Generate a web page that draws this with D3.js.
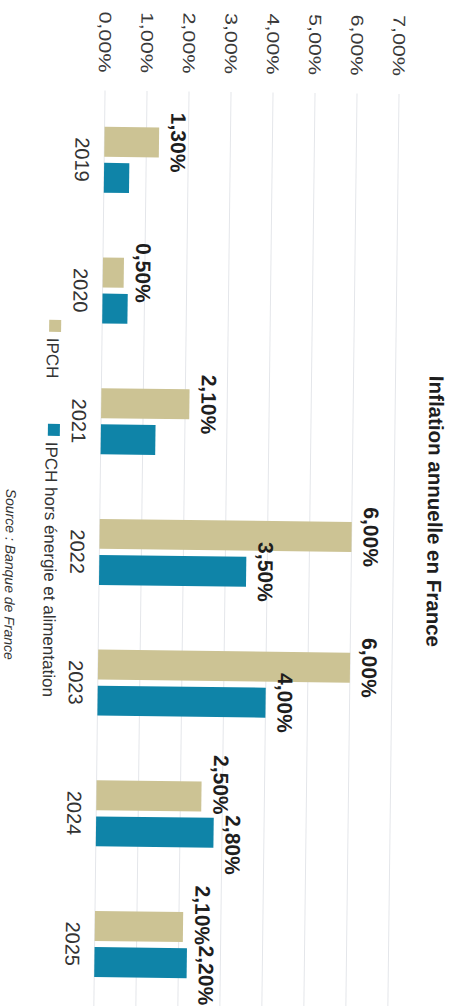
<!DOCTYPE html>
<html>
<head>
<meta charset="utf-8">
<script src="https://cdn.jsdelivr.net/npm/d3@7"></script>
<style>
  html, body { margin: 0; padding: 0; background: #fff; }
  svg { display: block; }
  text { font-family: "Liberation Sans", Arial, sans-serif; }
</style>
</head>
<body>
<script>
// Annual inflation in France: headline HICP vs core HICP
const years = ["2019", "2020", "2021", "2022", "2023", "2024", "2025"];
const ipch = [1.3, 0.5, 2.1, 6.0, 6.0, 2.5, 2.1];
const ipchCore = [0.6, 0.6, 1.3, 3.5, 4.0, 2.8, 2.2];
const ipchShowLabel = [true, true, true, true, true, true, true];
const coreShowLabel = [false, false, false, true, true, true, true];
const tickValues = [0, 1, 2, 3, 4, 5, 6, 7];
const seriesNames = ["IPCH", "IPCH hors énergie et alimentation"];
const seriesColors = ["#ccc394", "#0f84a8"];
const title = "Inflation annuelle en France";
const source = "Source : Banque de France";

const W = 459, H = 1006;
const fmt = v => d3.format(".2f")(v).replace(".", ",") + "%";

const svg = d3.select("body").append("svg")
  .attr("width", W).attr("height", H);
svg.append("rect").attr("width", W).attr("height", H).attr("fill", "#fff");

// The page is laid out sideways: a column chart turned a quarter turn clockwise
const tilt = svg.append("g").attr("transform", "rotate(0.7,229.5,503)");
const g = tilt.append("g").attr("transform", `translate(${W},0) rotate(90)`);

// scales in the chart's own (unrotated) frame
const x = d3.scaleBand().domain(years).range([96, 1011])
  .paddingInner(0.495).paddingOuter(0.2475);
const sub = d3.scaleBand().domain([0, 1]).range([0, x.bandwidth()]).paddingInner(0.17);
const y = d3.scaleLinear().domain([0, 7]).range([359, 65]);

// gridlines
g.append("g").selectAll("line").data(tickValues).join("line")
  .attr("x1", 92).attr("x2", 1012)
  .attr("y1", d => y(d)).attr("y2", d => y(d))
  .attr("stroke", "#e4e6ea").attr("stroke-width", 1);

// value axis labels
const yAxis = d3.axisLeft(y).tickValues(tickValues).tickFormat(fmt).tickSize(0).tickPadding(0);
const ya = g.append("g").attr("transform", "translate(74,0)").call(yAxis);
ya.select(".domain").remove();
ya.selectAll("text")
  .attr("font-size", 17).attr("fill", "#3a3a3a")
  .attr("textLength", 61).attr("lengthAdjust", "spacingAndGlyphs")
  .attr("dy", "0.35em");

// category labels
const xAxis = d3.axisBottom(x).tickSize(0).tickPadding(0);
const xa = g.append("g").attr("transform", "translate(0,388)").call(xAxis);
xa.select(".domain").remove();
xa.selectAll("text").attr("font-size", 20).attr("fill", "#333").attr("dy", 0);

// bars
const rows = years.map((yr, i) => ({ yr, vals: [ipch[i], ipchCore[i]], show: [ipchShowLabel[i], coreShowLabel[i]] }));
const grp = g.append("g").selectAll("g").data(rows).join("g")
  .attr("transform", d => `translate(${x(d.yr)},0)`);
grp.selectAll("rect").data(d => d.vals.map((v, k) => ({ v, k }))).join("rect")
  .attr("x", d => sub(d.k)).attr("width", sub.bandwidth())
  .attr("y", d => y(d.v)).attr("height", d => y(0) - y(d.v))
  .attr("fill", d => seriesColors[d.k]);

// value labels, pushed apart within a year when they would collide
const labelW = 58, labelH = 16, gap = 12;
grp.each(function (d) {
  const pos = d.vals.map((v, k) => ({ v, k, cx: sub(k) + sub.bandwidth() / 2, base: y(v) - gap }));
  const shown = pos.filter(p => d.show[p.k]);
  if (shown.length === 2 && Math.abs(shown[0].base - shown[1].base) < labelH) {
    const mid = x.bandwidth() / 2;
    shown[0].cx = mid - labelW / 2 - 1;
    shown[1].cx = mid + labelW / 2 + 1;
  }
  d3.select(this).selectAll("text").data(shown).join("text")
    .attr("x", p => p.cx).attr("y", p => p.base)
    .attr("text-anchor", "middle")
    .attr("font-size", 21).attr("font-weight", "bold").attr("fill", "#1e1e1e")
    .text(p => fmt(p.v));
});

// title
g.append("text").attr("x", 509).attr("y", 31)
  .attr("text-anchor", "middle").attr("font-size", 20.5).attr("font-weight", "bold")
  .attr("fill", "#1e1e1e").text(title);

// legend
const legendX = [322, 426];
const leg = g.append("g").selectAll("g").data(seriesNames).join("g")
  .attr("transform", (d, i) => `translate(${legendX[i]},0)`);
leg.append("rect").attr("x", 0).attr("y", 400).attr("width", 12).attr("height", 12)
  .attr("fill", (d, i) => seriesColors[i]);
leg.append("text").attr("x", 18).attr("y", 414)
  .attr("font-size", 17).attr("fill", "#333").text(d => d);

// source
g.append("text").attr("x", 577).attr("y", 453)
  .attr("text-anchor", "middle").attr("font-size", 14).attr("font-style", "italic")
  .attr("fill", "#333").text(source);
</script>
</body>
</html>
